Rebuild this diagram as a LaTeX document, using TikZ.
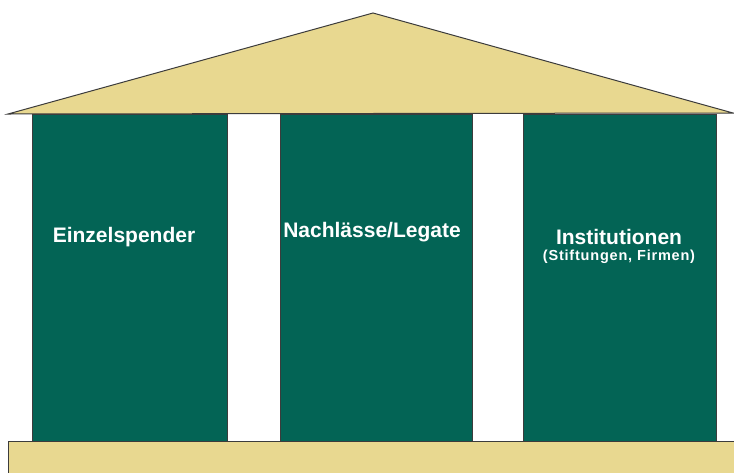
\documentclass[tikz,border=0pt]{standalone}
\usepackage{fontspec}
\setmainfont{Liberation Sans}
\usetikzlibrary{positioning}
\definecolor{roofcol}{RGB}{232,216,144}
\definecolor{pillarcol}{RGB}{3,100,85}
\definecolor{edgecol}{RGB}{60,60,60}
\tikzset{
  pillar/.style={fill=pillarcol, draw=edgecol, line width=1pt},
  stone/.style={fill=roofcol, draw=edgecol, line width=1pt},
  title/.style={text=white, font=\fontsize{21}{24}\selectfont\bfseries, inner sep=0pt},
  subtitle/.style={text=white, font=\fontsize{14.5}{17}\selectfont\bfseries\addfontfeature{LetterSpace=5.5}, inner sep=0pt}
}
\begin{document}
\begin{tikzpicture}[x=1pt,y=-1pt]
        \clip (0,0) rectangle (734,472);
        \fill[white] (0,0) rectangle (734,472);
        % Pillars
        \draw[pillar] (32,114) rectangle (227,441);
        \draw[pillar] (280,114) rectangle (472,441);
        \draw[pillar] (523,114) rectangle (716,441);
        % Base and roof
        \draw[stone] (8,441) rectangle (745,490);
        \draw[stone] (8,114) -- (373,13) -- (733,113) -- cycle;
        % Labels
        \node[title] (einzel) at (124,237) {Einzelspender};
        \node[title] (nachlass) at (372,232) {Nachlässe/Legate};
        \node[title] (instit) at (619,237) {Institutionen};
        \node[subtitle, below=5pt of instit] (firmen) {(Stiftungen, Firmen)};
    \end{tikzpicture}
\end{document}
